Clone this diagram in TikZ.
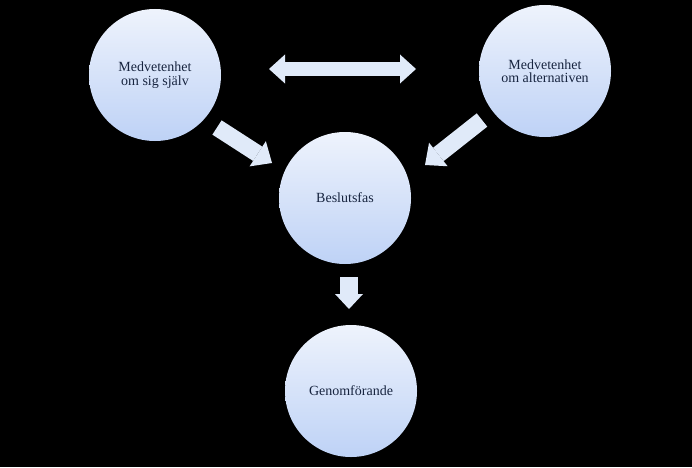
\documentclass[tikz,border=0pt]{standalone}
\usepackage{fontspec}
\setmainfont{Liberation Serif}
\usetikzlibrary{arrows.meta,positioning}
\definecolor{cirtop}{RGB}{238,243,252}
\definecolor{cirbot}{RGB}{190,210,246}
\definecolor{arrfill}{RGB}{224,234,249}
\definecolor{txt}{RGB}{23,36,63}
\begin{document}
\begin{tikzpicture}[x=1pt,y=1pt,
      fas/.style={circle, minimum size=132pt, inner sep=0pt, align=center,
        top color=cirtop, bottom color=cirbot, text=txt,
        font=\fontsize{14}{13.5}\selectfont},
      blk/.style={draw=arrfill, line width=17pt,
        -{Triangle[length=17pt,width=30pt,line width=0pt]}}]
    \fill[black] (0,0) rectangle (692,467);
    \useasboundingbox (0,0) rectangle (692,467);
    \node[fas] (self)   at (155,392) {Medvetenhet\\om sig själv};
    \node[fas] (alt)    at (545,396) {Medvetenhet\\om alternativen};
    \node[fas] (beslut) at (345,269) {Beslutsfas};
    \node[fas] (genom)  at (351,76)  {Genomförande};
    % ends of the block arrows
    \coordinate (dl) at (269,398);
    \coordinate (dr) at (416,398);
    \coordinate (ls) at (217,339.5);
    \coordinate (le) at (272,304);
    \coordinate (rs) at (482,347);
    \coordinate (re) at (425,302);
    \coordinate (ds) at (349,190);
    \coordinate (de) at (349,158);
    \draw[draw=arrfill, line width=14pt,
      {Triangle[length=16pt,width=29pt,line width=0pt]}-{Triangle[length=16pt,width=29pt,line width=0pt]}] (dl) -- (dr);
    \draw[blk] (ls) -- (le);
    \draw[blk] (rs) -- (re);
    \draw[draw=arrfill, line width=18pt,
      -{Triangle[length=15pt,width=28pt,line width=0pt]}] (ds) -- (de);
  \end{tikzpicture}
\end{document}
